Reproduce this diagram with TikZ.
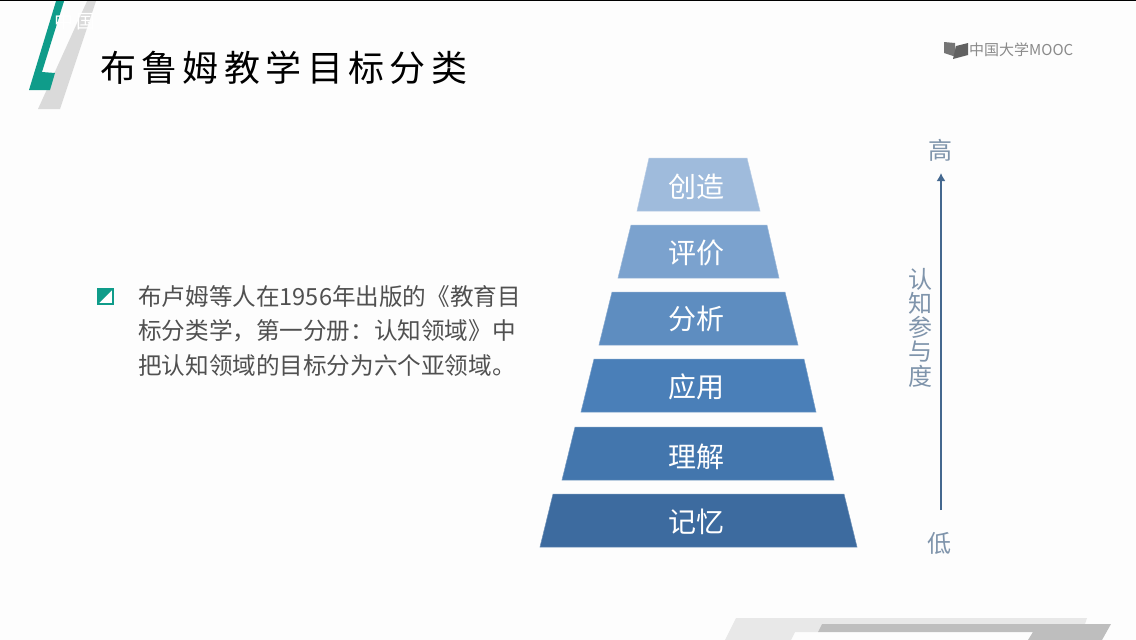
\documentclass[tikz,border=0pt]{standalone}
\usepackage{fontspec}
\setmainfont{Noto Sans CJK SC}
\newfontfamily\titlefont[LetterSpace=15]{Noto Sans CJK SC}
\usetikzlibrary{arrows.meta}
\definecolor{pageback}{HTML}{FDFDFD}
\definecolor{tealbar}{HTML}{0F9C8A}
\definecolor{graybar}{HTML}{DADADA}
\definecolor{footlight}{HTML}{E8E8E8}
\definecolor{footdark}{HTML}{BEBEBE}
\definecolor{bodytext}{HTML}{505050}
\definecolor{logogray}{HTML}{8A8A8A}
\definecolor{axisblue}{HTML}{44688F}
\definecolor{axistext}{HTML}{7F94AB}
\definecolor{levela}{HTML}{9FBBDC}
\definecolor{levelb}{HTML}{7BA2CE}
\definecolor{levelc}{HTML}{5E8DC0}
\definecolor{leveld}{HTML}{4A7FB8}
\definecolor{levele}{HTML}{4376AD}
\definecolor{levelf}{HTML}{3D6B9F}
\tikzset{
  levelbox/.style={fill=#1, draw=#1!75!white, line width=0.5pt},
  levellabel/.style={text=white, font=\fontsize{28}{28}\selectfont, inner sep=0pt},
  sidelabel/.style={text=axistext, font=\fontsize{24}{24}\selectfont, inner sep=0pt}
}
\begin{document}
\begin{tikzpicture}[x=1pt,y=-1pt]
\useasboundingbox (0,0) rectangle (1136,640);
\fill[pageback] (0,0) rectangle (1136,640);
\fill[black] (0,0) rectangle (1136,1.2);
% header marks
\fill[graybar] (87,1.2) -- (96,1.2) -- (60,109) -- (38,109) -- cycle;
\fill[tealbar] (56,1.2) -- (64,1.2) -- (42,72) -- (55,73) -- (50,90) -- (29,90) -- cycle;
\node[text=white, font=\fontsize{19}{19}\selectfont, inner sep=0pt] (watermark) at (75,21) {中\hspace{3pt}国};
\node[anchor=west, inner sep=0pt, text=black, font=\titlefont\fontsize{36}{36}\selectfont] (title) at (100,68) {布鲁姆教学目标分类};
% logo
\fill[logogray!85!black] (944,42) -- (955,43) -- (956,57) -- (944,53) -- cycle;
\fill[logogray!70!black] (956,46) -- (968,43) -- (968,55) -- (953,59) -- cycle;
\node[anchor=west, inner sep=0pt, text=logogray, font=\fontsize{15}{15}\selectfont] (logo) at (969,50) {中国大学MOOC};
% footer
\fill[footlight] (736,618) -- (1087,618) -- (1085,624) -- (822,624) -- (818,632) -- (795,632) -- (791,640) -- (725,640) -- cycle;
\fill[footdark] (822,624) -- (1111,624) -- (1102,640) -- (1028,640) -- (1033,632) -- (818,632) -- cycle;
% bullet
\draw[tealbar, line width=2pt, fill=white] (98,289) rectangle (113,304);
\fill[tealbar] (98,304) -- (98,289) -- (113,289) -- cycle;
% body
\node[anchor=north west, inner sep=0pt, text=bodytext, align=left, font=\fontsize{23.6}{34.5}\selectfont] (body) at (138,285)
 {布卢姆等人在1956年出版的《教育目\\标分类学，第一分册：认知领域》中\\把认知领域的目标分为六个亚领域。};
% pyramid
\draw[levelbox=levela] (649,158) -- (747,158) -- (760,211) -- (637,211) -- cycle;
\draw[levelbox=levelb] (631,225) -- (767,225) -- (779,278) -- (618,278) -- cycle;
\draw[levelbox=levelc] (612,292) -- (785,292) -- (798,345) -- (599,345) -- cycle;
\draw[levelbox=leveld] (594,359) -- (804,359) -- (816,412) -- (581,412) -- cycle;
\draw[levelbox=levele] (575,427) -- (822,427) -- (834,480) -- (562,480) -- cycle;
\draw[levelbox=levelf] (553,494) -- (844,494) -- (857,547) -- (540,547) -- cycle;
\node[levellabel] (create) at (696,186.5) {创造};
\node[levellabel] (evaluate) at (696,253) {评价};
\node[levellabel] (analyze) at (696,319) {分析};
\node[levellabel] (apply) at (696,387) {应用};
\node[levellabel] (understand) at (696,457) {理解};
\node[levellabel] (remember) at (696,522) {记忆};
% axis
\node[sidelabel] (high) at (940,150) {高};
\node[sidelabel] (low) at (939,543) {低};
\node[sidelabel, align=center, font=\fontsize{24}{24.2}\selectfont] (engage) at (920,327.5) {认\\知\\参\\与\\度};
\coordinate (axisbottom) at (941,510);
\coordinate (axistop) at (941,173);
\draw[axisblue, line width=2.8pt, -{Latex[length=8pt,width=9pt]}] (axisbottom) -- (axistop);
\end{tikzpicture}
\end{document}
